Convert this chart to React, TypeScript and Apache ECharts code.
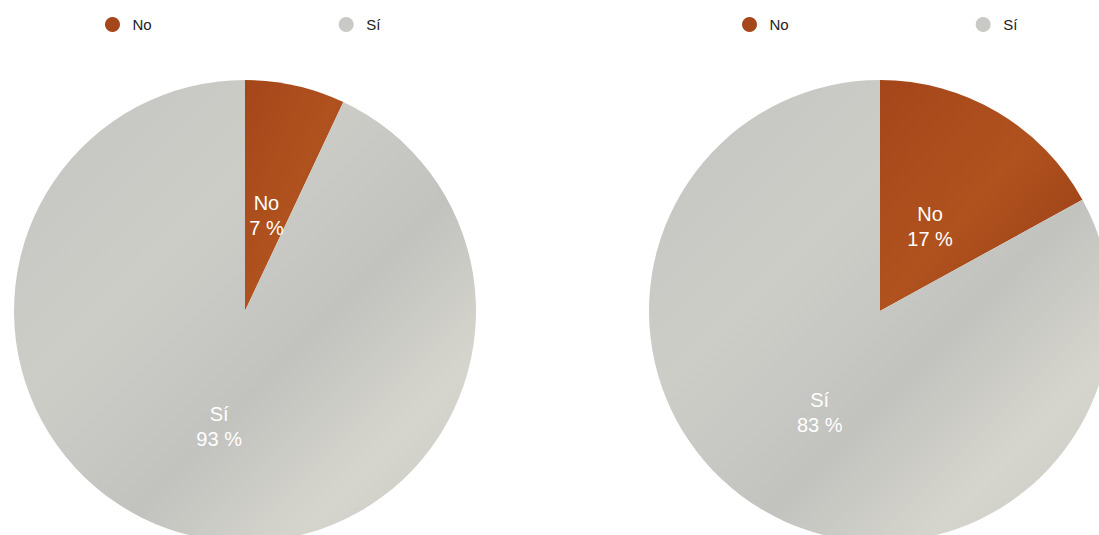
import React, { useEffect, useRef } from "react";
import * as echarts from "echarts";

const categories = ["No", "Sí"];
const leftValues = [7, 93];
const rightValues = [17, 83];

const brown = {
  type: "linear",
  x: 0, y: 0, x2: 1, y2: 1,
  colorStops: [
    { offset: 0, color: "#a4461a" },
    { offset: 0.5, color: "#b0521e" },
    { offset: 1, color: "#973c16" },
  ],
};
const gray = {
  type: "linear",
  x: 0, y: 0, x2: 1, y2: 1,
  colorStops: [
    { offset: 0, color: "#c3c3c0" },
    { offset: 0.35, color: "#cdcdc8" },
    { offset: 0.6, color: "#c2c2bf" },
    { offset: 0.8, color: "#d6d5cd" },
    { offset: 1, color: "#c6c6c1" },
  ],
};
const legendGray = "#c9c9c5";

function makeData(values: number[]) {
  return categories.map((name, i) => ({
    name,
    value: values[i],
    itemStyle: { color: i === 0 ? brown : gray },
  }));
}

function makeLegend(left: number) {
  return {
    left,
    top: 12,
    orient: "horizontal",
    icon: "circle",
    itemWidth: 30,
    itemHeight: 15,
    itemGap: 187,
    data: categories.map((name, i) => ({
      name,
      itemStyle: { color: i === 0 ? "#a5461b" : legendGray },
    })),
    textStyle: {
      fontFamily: "Liberation Sans, Arial, sans-serif",
      fontSize: 15,
      color: "#222222",
    },
    selectedMode: false,
  };
}

const CY = 311;

function makeSeries(values: number[], cx: number) {
  return {
    type: "pie",
    center: [cx, CY],
    radius: 231,
    startAngle: 90,
    clockwise: true,
    silent: true,
    label: {
      show: true,
      position: "inside",
      formatter: (p: any) => `${p.name}\n${Math.round(p.percent)} %`,
      color: "#ffffff",
      fontFamily: "Liberation Sans, Arial, sans-serif",
      fontSize: 20,
      lineHeight: 25,
      align: "center",
    },
    labelLayout: (p: any) => {
      if (p.dataIndex !== 0) return {};
      const r = p.labelRect;
      const lx = r.x + r.width / 2;
      const ly = r.y + r.height / 2;
      return { dx: (cx - lx) * 0.17, dy: (CY - ly) * 0.17 };
    },
    labelLine: { show: false },
    itemStyle: { borderWidth: 0 },
    data: makeData(values),
  };
}

export default function App() {
  const ref = useRef<HTMLDivElement>(null);
  useEffect(() => {
    if (!ref.current) return;
    const chart = echarts.init(ref.current, undefined, { renderer: "svg" });
    chart.setOption({
      animation: false,
      backgroundColor: "#ffffff",
      legend: [makeLegend(100), makeLegend(737)],
      series: [makeSeries(leftValues, 245), makeSeries(rightValues, 880)],
    } as any);
    return () => chart.dispose();
  }, []);
  return (
    <div
      ref={ref}
      style={{ position: "fixed", left: 0, top: 0, width: 1099, height: 535 }}
    />
  );
}
